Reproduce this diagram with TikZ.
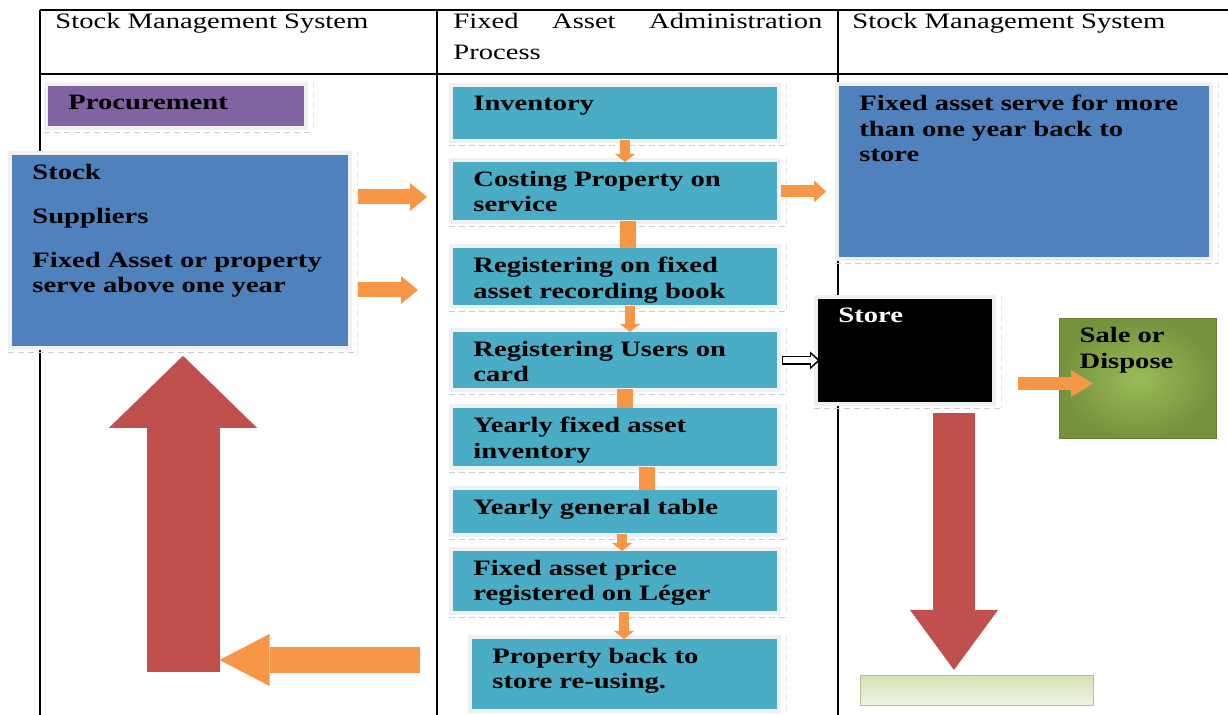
\documentclass[tikz,border=0pt]{standalone}
\usepackage{fontspec}
\setmainfont{Liberation Serif}[FakeStretch=1.3]
\usepackage{xcolor}
\usepackage{tikz}
\usetikzlibrary{positioning,arrows.meta}
\definecolor{prp}{HTML}{8064A2}
\definecolor{blu}{HTML}{4F81BD}
\definecolor{tea}{HTML}{4BACC6}
\definecolor{org}{HTML}{F79646}
\definecolor{rdd}{HTML}{C0504D}
\definecolor{gin}{HTML}{9BBB59}
\definecolor{gout}{HTML}{76923C}
\definecolor{lgt}{HTML}{D3E2B6}
\definecolor{lgb}{HTML}{EEF4E3}
\newcommand{\bt}[3]{\parbox[t][#2][t]{#1}{\raggedright #3}}

\begin{document}
\begin{tikzpicture}[x=0.5pt, y=-0.5pt,
  hd/.style={anchor=north west, inner sep=0pt, align=left, font=\fontsize{11}{15.5}\selectfont},
  tl/.style={line width=1pt},
  frm/.style={draw=black!20, densely dashed, line width=0.4pt},
  frr/.style={draw=black!10, densely dashed, line width=0.4pt},
  bx/.style={anchor=north west, inner xsep=10pt, inner ysep=4.5pt,
    font=\fontsize{11}{12.6}\selectfont\bfseries, preaction={draw=black!6, line width=4pt},
    append after command={
      ([shift={(-2pt,-3pt)}]\tikzlastnode.south west) edge[frm] ([shift={(4.5pt,-3pt)}]\tikzlastnode.south east)
      ([shift={(4.5pt,2pt)}]\tikzlastnode.north east) edge[frr] ([shift={(4.5pt,-3pt)}]\tikzlastnode.south east)}},
  grn/.style={anchor=north west, inner xsep=10pt, inner ysep=4.5pt,
    font=\fontsize{11}{12.6}\selectfont\bfseries, inner color=gin, outer color=gout, draw=gout!85!black, line width=0.6pt},
  lgr/.style={anchor=north west, minimum width=116.5pt, minimum height=15pt, top color=lgt, bottom color=lgb, draw=lgt!85!black, line width=0.4pt},
  oa/.style={draw=org, line width=7.5pt, -{Triangle[width=14pt, length=8.5pt, line width=0pt]}},
  ob/.style={draw=org, line width=6pt, -{Triangle[width=11pt, length=6pt, line width=0pt]}},
  ol/.style={draw=org, line width=13pt, -{Triangle[width=26pt, length=25pt, line width=0pt]}},
  os/.style={draw=org, line width=6.5pt, -{Triangle[width=13.5pt, length=11pt, line width=0pt]}},
  dn/.style={draw=org, line width=5pt, -{Triangle[width=10pt, length=4pt, line width=0pt]}},
  stub/.style={draw=org, line width=8pt},
  ru/.style={draw=rdd, line width=36.5pt, -{Triangle[width=74pt, length=36pt, line width=0pt]}},
  rd/.style={draw=rdd, line width=21pt, -{Triangle[width=44pt, length=30pt, line width=0pt]}},
  hw/.style={draw=black, line width=4.5pt, -{Triangle[width=9pt, length=5pt, line width=0pt]}},
  hi/.style={draw=white, line width=3pt, -{Triangle[width=6pt, length=3.2pt, line width=0pt]}}]
\useasboundingbox (0,0) rectangle (1228,715);
% table and headers
\draw[tl] (40,10) -- (1228,10) (40,74) -- (1228,74);
\draw[tl] (40,10) -- (40,715) (437,10) -- (437,715) (838,10) -- (838,715);
\node[hd] (hl) at (55,13) {Stock Management System};
\node[hd] (hm) at (453,13) {\makebox[184.5pt][s]{Fixed Asset Administration}\\Process};
\node[hd] (hr) at (852,13) {Stock Management System};
% left column
\node[bx, fill=prp] (proc) at (48,86) {\bt{108pt}{11pt}{Procurement}};
\node[bx, fill=blu] (stock) at (12,155) {\bt{148pt}{86.5pt}{Stock\\[9.4pt]Suppliers\\[9.4pt]Fixed Asset or property\\serve above one year}};
% middle column
\node[bx, fill=tea] (inv) at (453,87) {\bt{142pt}{17pt}{Inventory}};
\node[bx, fill=tea] (cost) at (453,162) {\bt{142pt}{20pt}{Costing Property on\\service}};
\node[bx, fill=tea] (reg) at (453,248) {\bt{142pt}{19.5pt}{Registering on fixed\\asset recording book}};
\node[bx, fill=tea] (users) at (453,332) {\bt{142pt}{19pt}{Registering Users on\\card}};
\node[bx, fill=tea] (yfa) at (453,408) {\bt{142pt}{20pt}{Yearly fixed asset\\inventory}};
\node[bx, fill=tea] (ygt) at (453,490) {\bt{142pt}{12.5pt}{Yearly general table}};
\node[bx, fill=tea] (fap) at (453,551) {\bt{142pt}{21pt}{Fixed asset price\\registered on Léger}};
\node[bx, fill=tea] (prop) at (472,639) {\bt{132.5pt}{26pt}{Property back to\\store re-using.}};
% right column
\node[bx, fill=blu] (fab) at (839,86) {\bt{165pt}{76.5pt}{Fixed asset serve for more\\than one year back to\\store}};
\node[bx, fill=black, text=white] (store) at (818,299) {\bt{67pt}{42.5pt}{Store}};
\node[grn] (sale) at (1059,318) {\bt{58.5pt}{51pt}{Sale or\\Dispose}};
\node[lgr] (lgrn) at (860,675) {};
% process steps
\foreach \a/\b/\x in {inv/cost/625, reg/users/630, ygt/fap/622, fap/prop/624} {
  \coordinate (mx) at (\x,0);
  \draw[dn] (\a.south -| mx) -- (\b.north -| mx);
}
\foreach \a/\b/\x in {cost/reg/628, users/yfa/625, yfa/ygt/647} {
  \coordinate (mx) at (\x,0);
  \draw[stub] (\a.south -| mx) -- (\b.north -| mx);
}
% arrows between columns
\coordinate (inA) at (427,197);
\coordinate (inB) at (418,290);
\draw[oa, shorten <=4.5pt] (stock.east |- inA) -- (inA);
\draw[oa, shorten <=4.5pt] (stock.east |- inB) -- (inB);
\draw[ob, shorten <=1.5pt, shorten >=6.5pt] (cost.east) -- (cost.east -| fab.west);
\draw[hw, shorten <=2pt, shorten >=-1pt] (users.east) -- (users.east -| store.west);
\draw[hi, shorten <=2.75pt, shorten >=0.3pt] (users.east) -- (users.east -| store.west);
% big return arrows
\coordinate (upbot) at (183,672);
\draw[ru, shorten >=4.5pt] (upbot) -- (upbot |- stock.south);
\coordinate (retin) at (420,660);
\draw[ol, shorten >=18.25pt] (retin) -- (retin -| upbot);
\coordinate (dnx) at (954,0);
\draw[rd, shorten <=5pt, shorten >=2.5pt] (store.south -| dnx) -- (lgrn.north -| dnx);
\coordinate (sl) at ([yshift=-2.5pt]sale.west);
\draw[os, shorten <=12.5pt] (sl -| store.east) -- ([xshift=17pt]sl);
\end{tikzpicture}
\end{document}
